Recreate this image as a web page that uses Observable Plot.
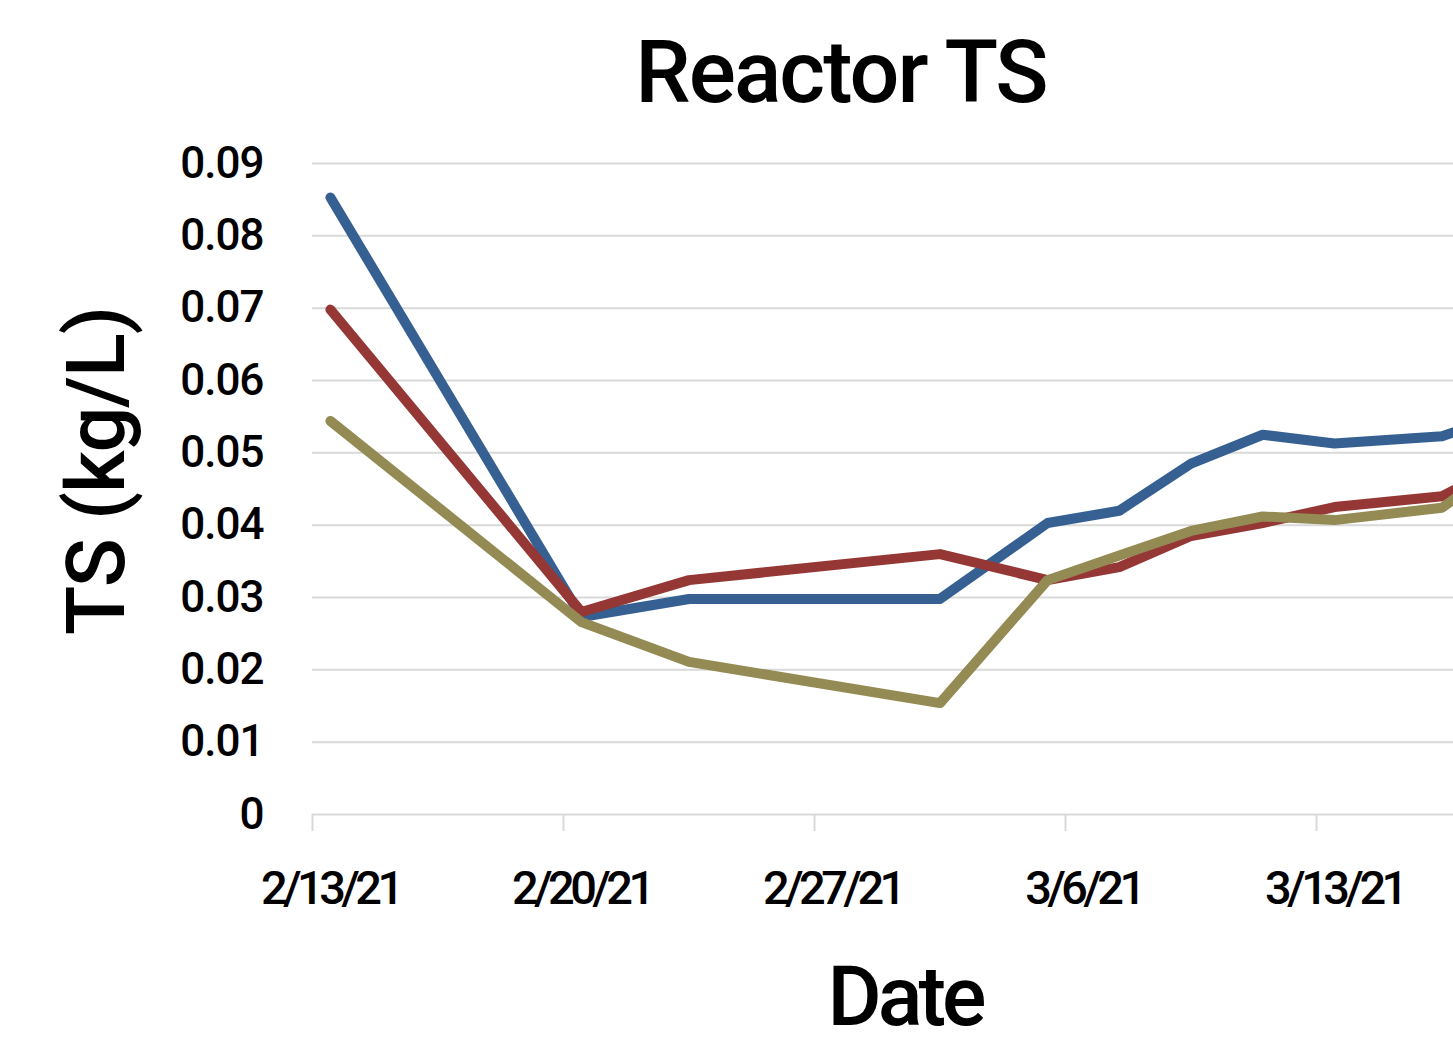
<!DOCTYPE html>
<html>
<head>
<meta charset="utf-8">
<script src="https://cdn.jsdelivr.net/npm/d3@7"></script>
<script src="https://cdn.jsdelivr.net/npm/@observablehq/plot@0.6"></script>
<style>
  html, body { margin: 0; padding: 0; background: #fff; overflow: hidden; }
  #wrap { position: relative; width: 1453px; height: 1043px; font-family: Roboto, "Noto Sans", sans-serif; color: #000; }
  #title { position: absolute; top: 32px; left: 841px; transform: translateX(-50%); font-size: 88px; line-height: 80px; letter-spacing: -2px; font-weight: 500; white-space: nowrap; }
  #xlabel { position: absolute; top: 962px; left: 905px; transform: translateX(-50%); font-size: 83px; line-height: 70px; letter-spacing: -4px; font-weight: 500; white-space: nowrap; }
  #chart { position: absolute; top: 130px; left: 0; }
  #chart svg { overflow: visible; }
</style>
</head>
<body>
<div id="wrap">
  <div id="title">Reactor TS</div>
  <div id="chart"></div>
  <div id="xlabel">Date</div>
</div>
<script>
// ---- data ----
const dates = ["2021-02-13","2021-02-20","2021-02-23","2021-03-02","2021-03-05","2021-03-07","2021-03-09","2021-03-11","2021-03-13","2021-03-16","2021-03-17"];
const seriesNames = ["Series 1", "Series 2", "Series 3"];
const seriesColors = ["#376092", "#953735", "#948A54"];
const series1 = [0.0853, 0.0273, 0.0298, 0.0298, 0.0403, 0.0420, 0.0485, 0.0525, 0.0513, 0.0523, 0.0540];
const series2 = [0.0698, 0.0280, 0.0324, 0.0360, 0.0324, 0.0342, 0.0385, 0.0403, 0.0425, 0.0440, 0.0465];
const series3 = [0.0544, 0.0266, 0.0211, 0.0154, 0.0324, 0.0358, 0.0392, 0.0412, 0.0407, 0.0424, 0.0460];
const yTicks = [0, 0.01, 0.02, 0.03, 0.04, 0.05, 0.06, 0.07, 0.08, 0.09];
const xTickDates = ["2021-02-13","2021-02-20","2021-02-27","2021-03-06","2021-03-13"];
const yLabel = "TS (kg/L)";

// ---- build table ----
const HALF_DAY = 12 * 3600 * 1000;
const toDate = s => new Date(s + "T00:00:00Z");
const allSeries = [series1, series2, series3];
const rows = [];
allSeries.forEach((vals, k) => {
  vals.forEach((v, i) => rows.push({date: new Date(+toDate(dates[i]) + HALF_DAY), value: v, series: seriesNames[k]}));
});
const tickBounds = xTickDates.map(toDate);
const tickCenters = tickBounds.map(d => new Date(+d + HALF_DAY));
const fmt = d3.utcFormat("%-m/%-d/%y");
const start = toDate(dates[0]);
const end = new Date(+start + 31.82 * 864e5);

const chart = Plot.plot({
  width: 1453,
  height: 780,
  marginLeft: 312,
  marginRight: 0,
  marginTop: 33,
  marginBottom: 96,
  style: {fontFamily: "Roboto, 'Noto Sans', sans-serif", color: "#000", background: "transparent"},
  x: {type: "utc", domain: [start, end]},
  y: {domain: [0, 0.09]},
  color: {domain: seriesNames, range: seriesColors},
  marks: [
    Plot.gridY(yTicks, {stroke: "#d9d9d9", strokeOpacity: 1, strokeWidth: 2}),
    Plot.axisX(tickBounds, {tickSize: 17, stroke: "#d9d9d9", strokeOpacity: 1, strokeWidth: 2, tickFormat: () => "", label: null}),
    Plot.axisX(tickCenters, {tickSize: 0, tickPadding: 56, tickFormat: fmt, fontSize: 47, fontWeight: 500, label: null}),
    Plot.axisY(yTicks, {tickSize: 0, tickPadding: 49, fontSize: 44, fontWeight: 500, label: null, tickFormat: d => d === 0 ? "0" : d.toFixed(2)}),
    Plot.text([yLabel], {frameAnchor: "left", textAnchor: "middle", text: d => d, rotate: -90, dx: -214, dy: -18, fontSize: 81, fontWeight: 500}),
    Plot.line(rows, {x: "date", y: "value", z: "series", stroke: "series", strokeWidth: 10, strokeLinecap: "round", strokeLinejoin: "round", clip: true})
  ]
});
document.getElementById("chart").appendChild(chart);
d3.select(chart).selectAll('g[aria-label="x-axis tick label"] text').style("letter-spacing", "-4.5px");
d3.select(chart).selectAll('g[aria-label="y-axis tick label"] text').style("letter-spacing", "-1px");
d3.select(chart).selectAll('g[aria-label="text"] text').style("letter-spacing", "-1px");
</script>
</body>
</html>
